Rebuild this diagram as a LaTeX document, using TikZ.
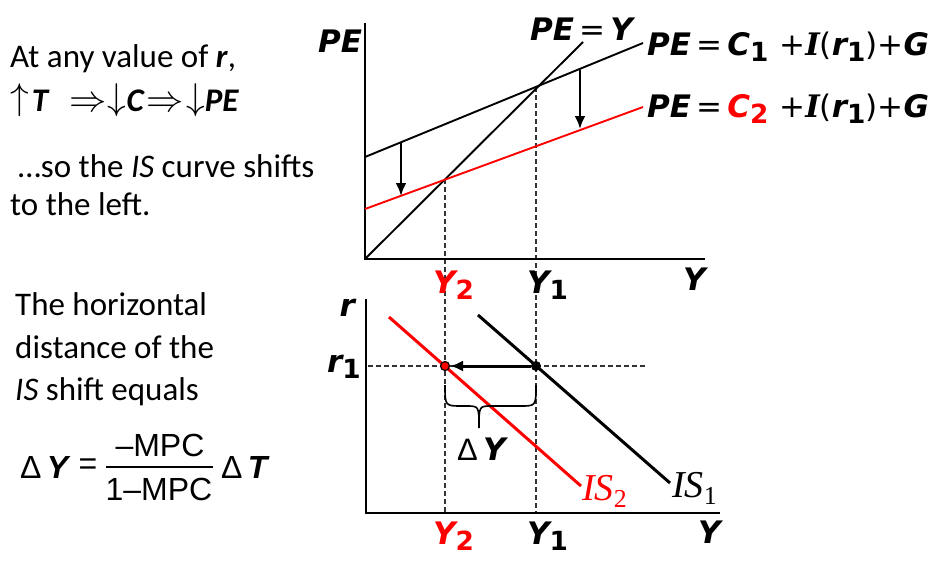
\documentclass[tikz,border=0pt]{standalone}
\usepackage{fontspec}
\setmainfont{Carlito}
\newfontfamily\dvs{DejaVu Sans}
\newfontfamily\dvserif{DejaVu Serif}
\newfontfamily\lsans{Liberation Sans}
\newfontfamily\lserif{Liberation Serif}
\usetikzlibrary{arrows.meta}
\definecolor{pred}{RGB}{255,0,0}
\newcommand\vbi{\dvs\bfseries\itshape}
\newcommand\up[1]{{\mdseries\upshape #1}}
\newcommand\sbs[1]{\raisebox{-0.22em}{\upshape\scalebox{0.85}{#1}}}
\newcommand\sbsm[1]{\raisebox{-0.2em}{\upshape\scalebox{0.68}{#1}}}
\newcommand\uarr{\raisebox{2pt}{\scalebox{1.5}{$\uparrow$}}}
\newcommand\darr{\raisebox{2pt}{\scalebox{1.5}{$\downarrow$}}}
\newcommand\rarr{\scalebox{1.5}{$\Rightarrow$}}
\begin{document}
\begin{tikzpicture}[x=1pt,y=-1pt,
  txt/.style={anchor=base west,inner sep=0pt,font=\fontsize{33}{40}\selectfont},
  lab/.style={anchor=base west,inner sep=0pt,font=\vbi\fontsize{31}{36}\selectfont},
  axisline/.style={line width=1.8pt},
  curveline/.style={line width=1.9pt},
  isline/.style={line width=3pt},
  guide/.style={dash pattern=on 5pt off 3pt,line width=1.3pt,black!80},
  shiftarrow/.style={line width=2.6pt,-{Latex[length=13pt,width=11pt]}},
  formula/.style={inner sep=0pt,font=\lsans\fontsize{32}{38}\selectfont}]
\useasboundingbox (0,0) rectangle (943,560);

% ---------- left text ----------
\node[txt] (t1) at (10,67) {At any value of \textbf{\textit{r}},};
\node[txt] (t2) at (10,111) {\uarr\hspace{3pt}\textbf{\textit{T}}\hspace{20pt}\rarr\hspace{1pt}\darr\textbf{\textit{C}}\hspace{2pt}\rarr\hspace{2pt}\darr\textbf{\textit{PE}}};
\node[txt] (t3) at (18,177) {…so the \textit{IS} curve shifts};
\node[txt] (t4) at (10,215) {to the left.};
\node[txt] (t5) at (15,315) {The horizontal};
\node[txt] (t6) at (15,358) {distance of the};
\node[txt] (t7) at (15,400) {\textit{IS} shift equals};

% ---------- formula ----------
\node[formula,anchor=west] (fdy) at (20,467) {Δ\,{\bfseries\itshape Y}};
\node[formula] (feq) at (88,467) {=};
\node[formula] (fnum) at (160,445) {–MPC};
\node[formula] (fden) at (159,489) {1–MPC};
\coordinate (fb1) at (106,467);
\coordinate (fb2) at (213,467);
\draw[line width=1.4pt] (fb1) -- (fb2);
\node[formula,anchor=west] (fdt) at (221,467) {Δ\,{\bfseries\itshape T}};

% ---------- top graph ----------
\coordinate (O1) at (365,259);
\coordinate (T1) at (365,23);
\coordinate (X1) at (705,259);
\coordinate (B0) at (365,157);
\coordinate (B1) at (643,43);
\coordinate (R0) at (365,209);
\coordinate (R1) at (643,107);
\coordinate (D1) at (583,42);
\coordinate (E1) at (536,87);
\coordinate (E2) at (445,179);
\coordinate (A1s) at (401,143);
\coordinate (A1e) at (401,196);
\coordinate (A2s) at (580,70);
\coordinate (A2e) at (580,129);

% ---------- bottom graph ----------
\coordinate (O2) at (366,513);
\coordinate (T2) at (366,299);
\coordinate (X2) at (720,513);
\coordinate (V1) at (536,513);
\coordinate (V2) at (445,513);
\coordinate (IA0) at (478,315);
\coordinate (IA1) at (670,483);
\coordinate (IB0) at (389,317);
\coordinate (IB1) at (581,486);
\coordinate (H0) at (368,366);
\coordinate (H1) at (645,366);

% dashed guides
\draw[guide] (E2) -- (V2);
\draw[guide] (E1) -- (V1);
\draw[guide] (H0) -- (H1);

% axes
\draw[axisline] (T1) -- (O1) -- (X1);
\draw[axisline] (T2) -- (O2) -- (X2);

% PE lines
\draw[curveline] (O1) -- (D1);
\draw[curveline] (B0) -- (B1);
\draw[curveline,pred] (R0) -- (R1);
\draw[shiftarrow] (A1s) -- (A1e);
\draw[shiftarrow] (A2s) -- (A2e);

% IS lines
\draw[isline] (IA0) -- (IA1);
\draw[isline,pred] (IB0) -- (IB1);

% dots and arrow
\node[circle,fill=black,inner sep=0pt,minimum size=10pt] (P1) at (536,366) {};
\node[circle,fill=pred,draw=black,line width=1.2pt,inner sep=0pt,minimum size=9pt] (P2) at (445,366) {};
\draw[line width=3pt,-{Latex[length=13pt,width=11pt]}] (P1) -- (P2);

% brace
\coordinate (BrL) at (445,385);
\coordinate (BrR) at (536,385);
\coordinate (BrT) at (479,428);
\draw[line width=1.6pt] (BrL) .. controls (445,406) .. (462,406) -- (466,406)
   .. controls (479,406) .. (BrT) .. controls (479,406) .. (492,406) -- (520,406)
   .. controls (536,406) .. (BrR);

% ---------- labels ----------
\node[lab] (lPE) at (318,52) {PE};
\node[lab] (lY1) at (683,290) {Y};
\node[lab,pred] (lY2t) at (433,293) {Y\sbs{2}};
\node[lab] (lY1t) at (527,293) {Y\sbs{1}};
\node[lab] (lPEY) at (530,40) {PE\up{\,=\,}Y};
\node[lab] (lPE1) at (647,55) {PE\up{\,=\,}C\sbs{1} \up{+}{\dvserif I}\up{(}r\sbs{1}\up{)+}G};
\node[lab] (lPE2) at (647,117) {PE\up{\,=\,}{\color{pred}C\sbs{2}} \up{+}{\dvserif I}\up{(}r\sbs{1}\up{)+}G};
\node[lab,anchor=base east] (lr) at (355,316) {r};
\node[lab,anchor=base east] (lr1) at (361,372) {r\sbs{1}};
\node[lab] (lY2) at (698,543) {Y};
\node[lab,pred] (lY2b) at (433,544) {Y\sbs{2}};
\node[lab] (lY1b) at (527,544) {Y\sbs{1}};
\node[anchor=base west,inner sep=0pt,font=\fontsize{31}{36}\selectfont] (lDY) at (457,460) {{\lsans Δ}\,{\vbi Y}};
\node[anchor=base west,inner sep=0pt,pred,font=\lserif\fontsize{38}{44}\selectfont] (lIS2) at (582,500) {\textit{IS}\sbsm{2}};
\node[anchor=base west,inner sep=0pt,font=\lserif\fontsize{38}{44}\selectfont] (lIS1) at (672,497) {\textit{IS}\sbsm{1}};
\end{tikzpicture}
\end{document}
